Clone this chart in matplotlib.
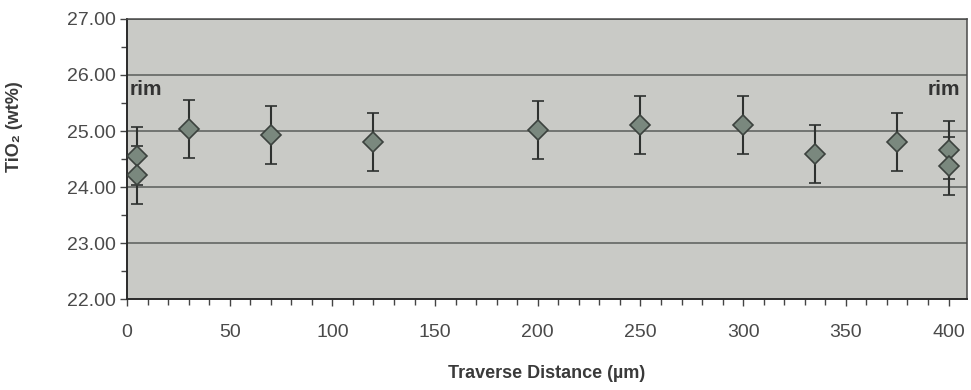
import matplotlib.pyplot as plt
from matplotlib.ticker import MultipleLocator, FormatStrFormatter

plt.rcParams['font.family'] = ['Liberation Sans', 'DejaVu Sans']

# traverse positions (um) and TiO2 contents (wt%) with 1-sigma errors
distance = [5, 5, 30, 70, 120, 200, 250, 300, 335, 375, 400, 400]
tio2 = [24.56, 24.22, 25.03, 24.93, 24.81, 25.02, 25.11, 25.11, 24.59, 24.81, 24.66, 24.38]
error = [0.52, 0.52, 0.52, 0.52, 0.52, 0.52, 0.52, 0.52, 0.52, 0.52, 0.52, 0.52]

x_ticks = [0, 50, 100, 150, 200, 250, 300, 350, 400]
y_ticks = [22, 23, 24, 25, 26, 27]

fig = plt.figure(figsize=(9.71, 3.9), dpi=100)
ax = fig.add_axes([0.1308, 0.2333, 0.8651, 0.718])
ax.set_facecolor('#c9cac6')

for y in y_ticks[1:]:
    ax.axhline(y, color='#5a5d5a', lw=1.1, zorder=1)

ax.errorbar(distance, tio2, yerr=error, fmt='D', ms=10.5,
            mfc='#7a887e', mec='#3c423e', mew=1.2,
            ecolor='#2e312f', elinewidth=1.5, capsize=4.5, capthick=1.5, zorder=3)

ax.text(1.5, 25.74, 'rim', fontsize=15, fontweight='bold', color='#333333',
        ha='left', va='center')
ax.text(405.5, 25.74, 'rim', fontsize=15, fontweight='bold', color='#333333',
        ha='right', va='center')

ax.set_xlim(0, 409)
ax.set_ylim(22, 27)
ax.set_xticks(x_ticks)
ax.set_yticks(y_ticks)
ax.xaxis.set_minor_locator(MultipleLocator(10))
ax.yaxis.set_minor_locator(MultipleLocator(0.5))
ax.yaxis.set_major_formatter(FormatStrFormatter('%.2f'))
ax.tick_params(axis='both', which='major', direction='out', length=5, width=1,
               color='#444444', labelsize=14, labelcolor='#4a4a4a')
ax.tick_params(axis='both', which='minor', direction='out', length=4, width=1,
               color='#444444')
ax.tick_params(axis='x', which='major', pad=13)
ax.tick_params(axis='y', which='major', pad=3)

for side in ['left', 'bottom']:
    ax.spines[side].set_color('#2a2a2a')
    ax.spines[side].set_linewidth(1.4)
for side in ['top', 'right']:
    ax.spines[side].set_color('#4a4a4a')
    ax.spines[side].set_linewidth(1.1)

ax.set_xlabel('Traverse Distance (µm)', fontsize=13, fontweight='bold', color='#3a3a3a')
ax.xaxis.set_label_coords(0.5, -0.235)
ax.set_ylabel('TiO₂ (wt%)', fontsize=13, fontweight='bold', color='#3a3a3a')
ax.yaxis.set_label_coords(-0.124, 0.614)

fig.savefig('out.png', dpi=100)
